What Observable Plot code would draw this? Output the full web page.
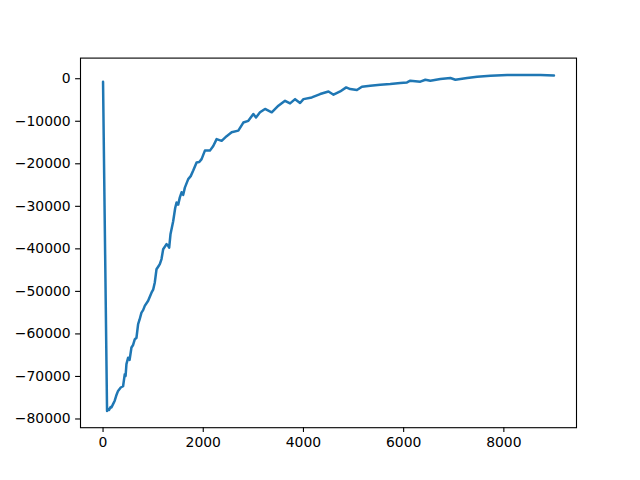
<!DOCTYPE html>
<html>
<head>
<meta charset="utf-8">
<script src="https://cdn.jsdelivr.net/npm/d3@7"></script>
<script src="https://cdn.jsdelivr.net/npm/@observablehq/plot@0.6"></script>
<style>
  html, body { margin: 0; padding: 0; background: white; }
</style>
</head>
<body>
<div id="chart"></div>
<script>
const xValues = [0, 80, 100, 120, 150, 167, 200, 233, 270, 300, 353, 400, 433, 450, 467, 500, 530, 567, 600, 633, 667, 700, 730, 767, 800, 833, 900, 967, 1000, 1033, 1067, 1100, 1133, 1167, 1200, 1267, 1300, 1320, 1347, 1400, 1440, 1467, 1500, 1533, 1567, 1600, 1633, 1700, 1750, 1800, 1867, 1920, 1967, 2033, 2133, 2200, 2267, 2367, 2467, 2567, 2700, 2800, 2900, 3000, 3053, 3133, 3233, 3367, 3500, 3633, 3733, 3833, 3933, 4000, 4167, 4333, 4500, 4600, 4733, 4853, 4933, 5067, 5167, 5333, 5533, 5733, 5933, 6067, 6133, 6333, 6433, 6533, 6733, 6933, 7033, 7267, 7467, 7733, 8067, 8400, 8733, 9000];
const yValues = [-700, -78100, -77600, -77900, -77200, -77300, -76500, -75700, -74300, -73400, -72600, -72300, -69500, -69900, -67100, -65600, -66100, -63200, -62600, -61300, -60900, -57700, -56600, -55000, -54400, -53400, -52200, -50300, -49600, -47900, -44800, -44200, -43600, -42400, -40100, -38900, -39300, -39700, -36500, -33500, -30400, -29100, -29600, -27900, -26700, -27300, -25600, -23600, -22900, -21600, -19700, -19600, -18900, -16900, -16900, -15800, -14200, -14600, -13500, -12600, -12200, -10300, -9900, -8300, -9100, -7900, -7100, -7900, -6350, -5200, -5800, -4800, -5700, -4800, -4400, -3600, -3000, -3760, -3000, -2040, -2430, -2670, -1880, -1650, -1410, -1250, -1010, -870, -470, -700, -240, -470, -80, 160, -230, 160, 470, 700, 900, 870, 870, 780];
const xTicks = [0, 2000, 4000, 6000, 8000];
const yTicks = [0, -10000, -20000, -30000, -40000, -50000, -60000, -70000, -80000];

const data = xValues.map((x, i) => ({x, y: yValues[i]}));
const fmt = d3.format("d");

const chart = Plot.plot({
  width: 640,
  height: 480,
  marginLeft: 80,
  marginRight: 64,
  marginTop: 57.6,
  marginBottom: 52.8,
  x: {domain: [-450, 9450]},
  y: {domain: [-82050, 4850]},
  style: {fontFamily: "DejaVu Sans", fontSize: "13.9px", background: "white", color: "black"},
  marks: [
    Plot.axisX({ticks: xTicks, tickSize: 4.9, tickPadding: 4.9, tickFormat: fmt, label: null, strokeWidth: 1.1, fontSize: 13.9}),
    Plot.axisY({ticks: yTicks, tickSize: 4.9, tickPadding: 4.9, tickFormat: fmt, label: null, strokeWidth: 1.1, fontSize: 13.9}),
    Plot.line(data, {x: "x", y: "y", stroke: "#1f77b4", strokeWidth: 2.5, strokeLinejoin: "round"}),
    Plot.frame({stroke: "black", strokeWidth: 1.1})
  ]
});
document.getElementById("chart").appendChild(chart);
</script>
</body>
</html>
